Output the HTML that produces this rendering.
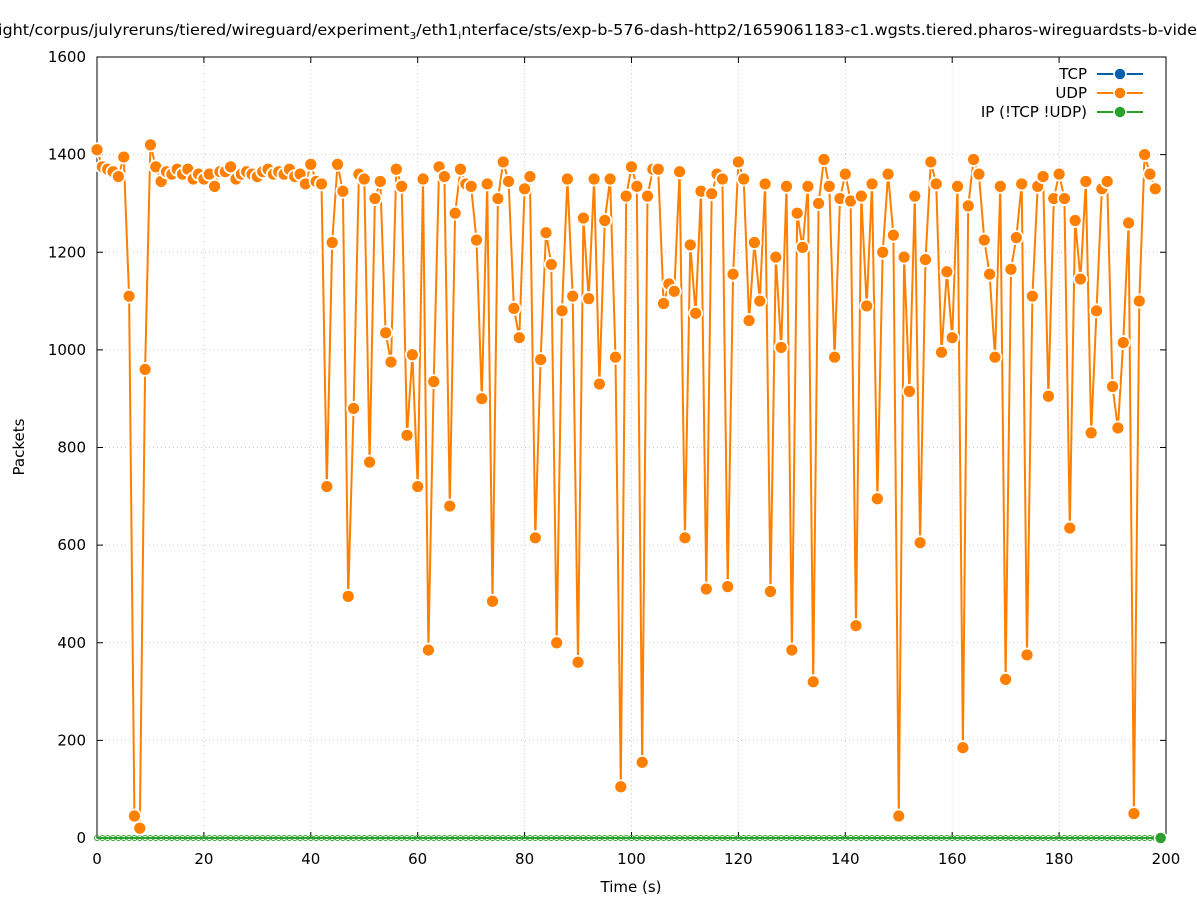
<!DOCTYPE html>
<html><head><meta charset="utf-8"><style>
html,body{margin:0;padding:0;background:#fff;}
svg{display:block;font-family:"DejaVu Sans","Liberation Sans",sans-serif;}
</style></head><body>
<svg id="s" width="1197" height="900" xmlns="http://www.w3.org/2000/svg">
<rect width="1197" height="900" fill="#fff"/>
<text x="-2" y="35" font-size="15" fill="#000" textLength="1199" lengthAdjust="spacingAndGlyphs">ight/corpus/julyreruns/tiered/wireguard/experiment<tspan font-size="10" dy="4">3</tspan><tspan dy="-4">/eth1</tspan><tspan font-size="10" dy="4">i</tspan><tspan dy="-4">nterface/sts/exp-b-576-dash-http2/1659061183-c1.wgsts.tiered.pharos-wireguardsts-b-vide</tspan></text>
<g id="grid"></g>
<rect x="97" y="57" width="1069" height="781" fill="none" stroke="#000" stroke-width="1"/>
<g id="ticks"></g>
<text x="24" y="447" font-size="15" text-anchor="middle" transform="rotate(-90 24 447)">Packets</text>
<text x="631" y="892" font-size="15" text-anchor="middle">Time (s)</text>
<g id="data"></g>
<g font-size="15" text-anchor="end">
<text x="1087" y="79">TCP</text>
<text x="1087" y="98">UDP</text>
<text x="1087" y="117">IP (!TCP  !UDP)</text>
<line x1="1097" y1="74" x2="1143" y2="74" stroke="#0060ad" stroke-width="2"/>
<circle cx="1120" cy="74" r="6" fill="#0060ad" stroke="#fff" stroke-width="1.5"/>
<line x1="1097" y1="93" x2="1143" y2="93" stroke="#ff7f00" stroke-width="2"/>
<circle cx="1120" cy="93" r="6" fill="#ff7f00" stroke="#fff" stroke-width="1.5"/>
<line x1="1097" y1="112" x2="1143" y2="112" stroke="#2ca02c" stroke-width="2"/>
<circle cx="1120" cy="112" r="6" fill="#2ca02c" stroke="#fff" stroke-width="1.5"/>
</g>
</svg>
<script>
var NS="http://www.w3.org/2000/svg";
function el(p,t,a){var e=document.createElementNS(NS,t);for(var k in a)e.setAttribute(k,a[k]);p.appendChild(e);return e;}
var X=function(t){return 97+t*5.345;}, Y=function(v){return 838-v*781/1600;};
var g=document.getElementById("grid"),tk=document.getElementById("ticks");
for(var i=0;i<=10;i++){var x=X(i*20);
 if(i>0&&i<10)el(g,"line",{x1:x,y1:57,x2:x,y2:838,stroke:"#ccc","stroke-dasharray":"1,3"});
 el(tk,"line",{x1:x,y1:838,x2:x,y2:832,stroke:"#000"});el(tk,"line",{x1:x,y1:57,x2:x,y2:63,stroke:"#000"});
 var t=el(tk,"text",{x:x,y:864,"font-size":15,"text-anchor":"middle"});t.textContent=i*20;}
for(var i=0;i<=8;i++){var y=Y(i*200);
 if(i>0&&i<8)el(g,"line",{x1:97,y1:y,x2:1166,y2:y,stroke:"#ccc","stroke-dasharray":"1,3"});
 el(tk,"line",{x1:97,y1:y,x2:103,y2:y,stroke:"#000"});el(tk,"line",{x1:1166,y1:y,x2:1160,y2:y,stroke:"#000"});
 var t=el(tk,"text",{x:86,y:y+5,"font-size":15,"text-anchor":"end"});t.textContent=i*200;}
var d=[1410,1375,1370,1365,1355,1395,1110,45,20,960,1420,1375,1345,1365,1360,1370,1360,1370,1350,1360,1350,1360,1335,1365,1365,1375,1350,1360,1365,1360,1355,1365,1370,1360,1365,1360,1370,1355,1360,1340,1380,1345,1340,720,1220,1380,1325,495,880,1360,1350,770,1310,1345,1035,975,1370,1335,825,990,720,1350,385,935,1375,1355,680,1280,1370,1340,1335,1225,900,1340,485,1310,1385,1345,1085,1025,1330,1355,615,980,1240,1175,400,1080,1350,1110,360,1270,1105,1350,930,1265,1350,985,105,1315,1375,1335,155,1315,1370,1370,1095,1135,1120,1365,615,1215,1075,1325,510,1320,1360,1350,515,1155,1385,1350,1060,1220,1100,1340,505,1190,1005,1335,385,1280,1210,1335,320,1300,1390,1335,985,1310,1360,1305,435,1315,1090,1340,695,1200,1360,1235,45,1190,915,1315,605,1185,1385,1340,995,1160,1025,1335,185,1295,1390,1360,1225,1155,985,1335,325,1165,1230,1340,375,1110,1335,1355,905,1310,1360,1310,635,1265,1145,1345,830,1080,1330,1345,925,840,1015,1260,50,1100,1400,1360,1330];
var dg=document.getElementById("data");
var gy=Y(0);
el(dg,"line",{x1:X(0),y1:gy,x2:X(199),y2:gy,stroke:"#2ca02c","stroke-width":2});
for(var i=0;i<199;i++)el(dg,"circle",{cx:X(i),cy:gy,r:2.5,fill:"none",stroke:"#2ca02c","stroke-width":1});
var pts=d.map(function(v,i){return X(i).toFixed(1)+","+Y(v).toFixed(1);}).join(" ");
el(dg,"polyline",{points:pts,fill:"none",stroke:"#fff","stroke-width":5,"stroke-linejoin":"round"});
el(dg,"polyline",{points:pts,fill:"none",stroke:"#ff7f00","stroke-width":2,"stroke-linejoin":"round"});
d.forEach(function(v,i){el(dg,"circle",{cx:X(i),cy:Y(v),r:6.5,fill:"#ff7f00",stroke:"#fff","stroke-width":1.8});});
el(dg,"circle",{cx:X(199),cy:gy,r:6,fill:"#2ca02c",stroke:"#fff","stroke-width":1.5});
</script>
</body></html>
